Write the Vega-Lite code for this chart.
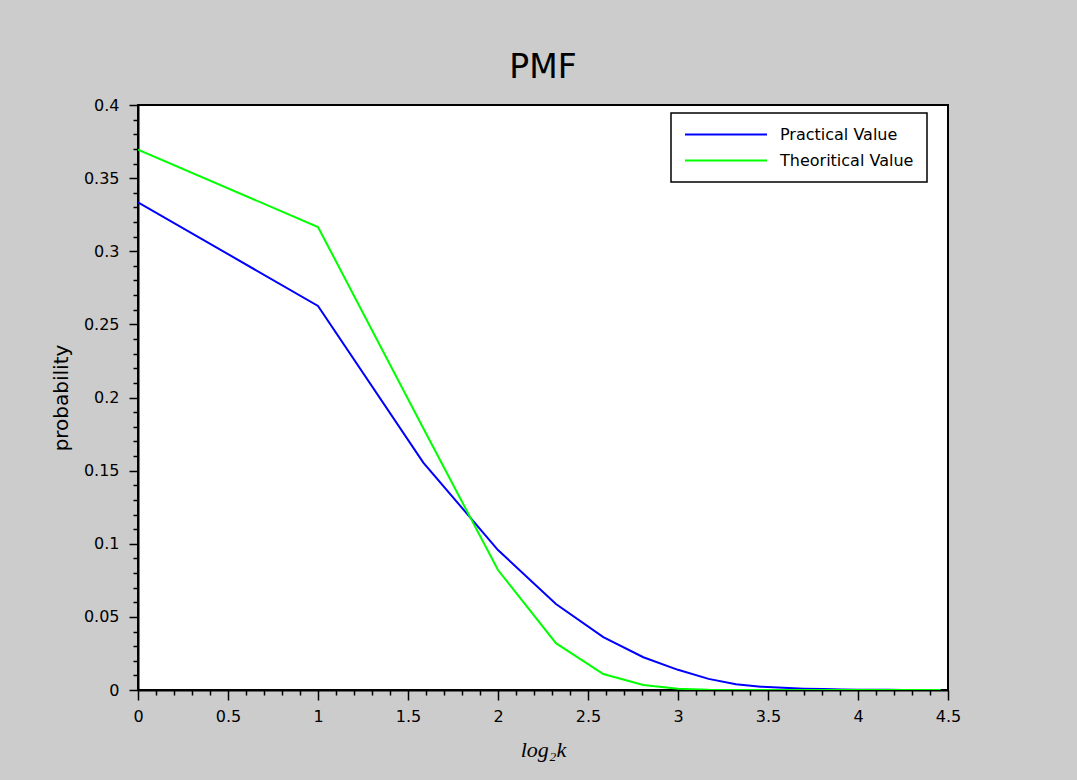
{
  "$schema": "https://vega.github.io/schema/vega-lite/v6.json",
  "width": 810,
  "height": 585,
  "autosize": {"type": "none"},
  "padding": {"left": 138, "top": 105, "right": 129, "bottom": 90},
  "background": "#cccccc",
  "config": {
    "view": {"fill": "white", "stroke": "black", "strokeWidth": 2},
    "font": "DejaVu Sans",
    "legend": {"strokeWidth": 1.5}
  },
  "title": {"text": "PMF", "fontSize": 33, "font": "DejaVu Sans", "fontWeight": "normal", "color": "black", "offset": 12, "anchor": "middle"},
  "data": {"values": [
    {"x": 0, "p": 0.3335, "series": "Practical Value"},
    {"x": 1, "p": 0.2626, "series": "Practical Value"},
    {"x": 1.585, "p": 0.1555, "series": "Practical Value"},
    {"x": 2, "p": 0.0957, "series": "Practical Value"},
    {"x": 2.3219, "p": 0.0588, "series": "Practical Value"},
    {"x": 2.585, "p": 0.0362, "series": "Practical Value"},
    {"x": 2.8074, "p": 0.0224, "series": "Practical Value"},
    {"x": 3, "p": 0.0138, "series": "Practical Value"},
    {"x": 3.1699, "p": 0.0076, "series": "Practical Value"},
    {"x": 3.3219, "p": 0.004, "series": "Practical Value"},
    {"x": 3.4594, "p": 0.0023, "series": "Practical Value"},
    {"x": 3.585, "p": 0.0015, "series": "Practical Value"},
    {"x": 3.7004, "p": 0.0009, "series": "Practical Value"},
    {"x": 3.8074, "p": 0.0006, "series": "Practical Value"},
    {"x": 3.9069, "p": 0.0003, "series": "Practical Value"},
    {"x": 4, "p": 0.0002, "series": "Practical Value"},
    {"x": 4.0875, "p": 0.0001, "series": "Practical Value"},
    {"x": 4.1699, "p": 0.0001, "series": "Practical Value"},
    {"x": 4.2479, "p": 0, "series": "Practical Value"},
    {"x": 4.3219, "p": 0, "series": "Practical Value"},
    {"x": 4.3923, "p": 0, "series": "Practical Value"},
    {"x": 4.4594, "p": 0, "series": "Practical Value"},
    {"x": 0, "p": 0.3695, "series": "Theoritical Value"},
    {"x": 1, "p": 0.3166, "series": "Theoritical Value"},
    {"x": 1.585, "p": 0.179, "series": "Theoritical Value"},
    {"x": 2, "p": 0.082, "series": "Theoritical Value"},
    {"x": 2.3219, "p": 0.032, "series": "Theoritical Value"},
    {"x": 2.585, "p": 0.0109, "series": "Theoritical Value"},
    {"x": 2.8074, "p": 0.0034, "series": "Theoritical Value"},
    {"x": 3, "p": 0.0009, "series": "Theoritical Value"},
    {"x": 3.1699, "p": 0.0002, "series": "Theoritical Value"},
    {"x": 3.3219, "p": 0.00005, "series": "Theoritical Value"},
    {"x": 3.4594, "p": 0, "series": "Theoritical Value"},
    {"x": 3.585, "p": 0, "series": "Theoritical Value"},
    {"x": 3.7004, "p": 0, "series": "Theoritical Value"},
    {"x": 3.8074, "p": 0, "series": "Theoritical Value"},
    {"x": 3.9069, "p": 0, "series": "Theoritical Value"},
    {"x": 4, "p": 0, "series": "Theoritical Value"},
    {"x": 4.0875, "p": 0, "series": "Theoritical Value"},
    {"x": 4.1699, "p": 0, "series": "Theoritical Value"},
    {"x": 4.2479, "p": 0, "series": "Theoritical Value"},
    {"x": 4.3219, "p": 0, "series": "Theoritical Value"},
    {"x": 4.3923, "p": 0, "series": "Theoritical Value"},
    {"x": 4.4594, "p": 0, "series": "Theoritical Value"}
  ]},
  "mark": {"type": "line", "strokeWidth": 2, "clip": true},
  "encoding": {
    "x": {
      "field": "x", "type": "quantitative",
      "scale": {"domain": [0, 4.5], "nice": false, "zero": false},
      "axis": {
        "title": "log₂k",
        "titleFont": "Liberation Serif", "titleFontStyle": "italic", "titleFontWeight": "normal", "titleFontSize": 22, "titleColor": "black", "titlePadding": 15,
        "values": [0,0.1,0.2,0.3,0.4,0.5,0.6,0.7,0.8,0.9,1,1.1,1.2,1.3,1.4,1.5,1.6,1.7,1.8,1.9,2,2.1,2.2,2.3,2.4,2.5,2.6,2.7,2.8,2.9,3,3.1,3.2,3.3,3.4,3.5,3.6,3.7,3.8,3.9,4,4.1,4.2,4.3,4.4,4.5],
        "labelExpr": "abs(datum.value*2-round(datum.value*2))<0.000001 ? toString(round(datum.value*10)/10) : ''",
        "tickSize": {"condition": {"test": "abs(datum.value*2-round(datum.value*2))<0.000001", "value": 10}, "value": 5},
        "tickColor": "black", "tickWidth": 1.5, "domainColor": "black", "domainWidth": 2,
        "labelFont": "DejaVu Sans", "labelFontSize": 16, "labelColor": "black", "labelPadding": 8,
        "grid": false, "labelOverlap": false, "labelFlush": false
      }
    },
    "y": {
      "field": "p", "type": "quantitative",
      "scale": {"domain": [0, 0.4], "nice": false},
      "axis": {
        "title": "probability",
        "titleFont": "DejaVu Sans", "titleFontSize": 20, "titleFontWeight": "normal", "titleColor": "black", "titlePadding": 12,
        "values": [0,0.01,0.02,0.03,0.04,0.05,0.06,0.07,0.08,0.09,0.1,0.11,0.12,0.13,0.14,0.15,0.16,0.17,0.18,0.19,0.2,0.21,0.22,0.23,0.24,0.25,0.26,0.27,0.28,0.29,0.3,0.31,0.32,0.33,0.34,0.35,0.36,0.37,0.38,0.39,0.4],
        "labelExpr": "abs(datum.value*20-round(datum.value*20))<0.000001 ? toString(round(datum.value*100)/100) : ''",
        "tickSize": {"condition": {"test": "abs(datum.value*20-round(datum.value*20))<0.000001", "value": 9}, "value": 5},
        "tickColor": "black", "tickWidth": 1.5, "domainColor": "black", "domainWidth": 2,
        "labelFont": "DejaVu Sans", "labelFontSize": 16, "labelColor": "black", "labelPadding": 10,
        "grid": false, "labelOverlap": false, "labelFlush": false
      }
    },
    "color": {
      "field": "series", "type": "nominal",
      "scale": {"domain": ["Practical Value", "Theoritical Value"], "range": ["#0000ff", "#00ff00"]},
      "legend": {
        "title": null, "orient": "none", "legendX": 533, "legendY": 8,
        "symbolType": "stroke", "symbolSize": 6724, "symbolStrokeWidth": 2,
        "labelFont": "DejaVu Sans", "labelFontSize": 16, "labelColor": "black", "labelOffset": 12, "labelLimit": 300,
        "strokeColor": "black", "fillColor": "white", "padding": 13, "cornerRadius": 0, "rowPadding": 9, "clipHeight": 17
      }
    }
  }
}
